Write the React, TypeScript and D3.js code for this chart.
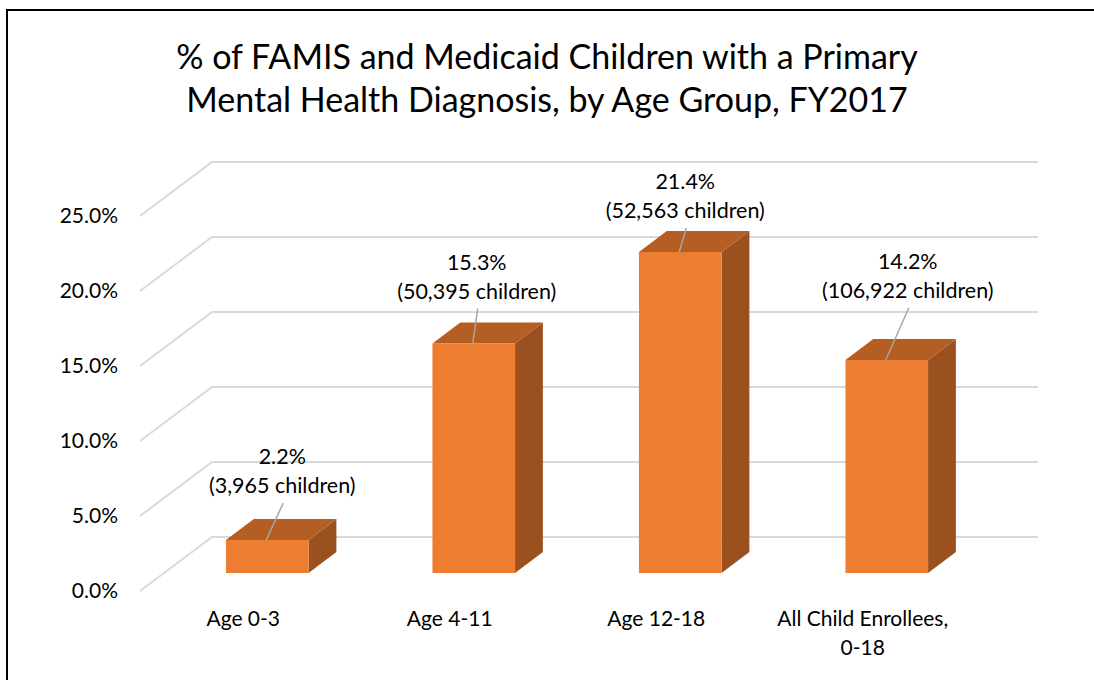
import React from "react";
import * as d3 from "d3";

const categories = ["Age 0-3", "Age 4-11", "Age 12-18", "All Child Enrollees,\n0-18"];
const percentValues = [2.2, 15.3, 21.4, 14.2];
const childCounts = ["3,965", "50,395", "52,563", "106,922"];
const yTicks = [0, 5, 10, 15, 20, 25];
const titleLines = [
  "% of FAMIS and Medicaid Children with a Primary",
  "Mental Health Diagnosis, by Age Group, FY2017",
];
// manual label placement nudges (layout, relative to bar top-center)
const labelNudge = [
  { dx: 15, dy: -47 },
  { dx: 3, dy: -45 },
  { dx: 5, dy: -34 },
  { dx: 21, dy: -62 },
];

const FONT = "Lato, 'Open Sans', sans-serif";

export default function App() {
  const W = 1094;
  const H = 680;
  const x0 = 140; // front-left floor x
  const y0 = 591; // front floor y for value 0
  const depthDX = 72;
  const depthDY = -54;
  const wallWidth = 826;

  const x = d3
    .scaleBand<string>()
    .domain(categories)
    .range([0, wallWidth])
    .paddingInner(0.6)
    .paddingOuter(0.3);
  const y = d3.scaleLinear().domain([0, 25]).range([0, 375]);
  const depth = d3.scaleLinear().domain([0, 1]).range([0, 1]);
  const dFront = depth(1 / 3);
  const dBack = depth(0.72);

  const P = (px: number, v: number, d: number): [number, number] => [
    x0 + depthDX * d + px,
    y0 + depthDY * d - y(v),
  ];
  const pts = (arr: [number, number][]) => arr.map((p) => p.join(",")).join(" ");

  const bw = x.bandwidth();

  return (
    <svg
      width={W}
      height={H}
      style={{ position: "absolute", left: 0, top: 0, background: "#fff" }}
      fontFamily={FONT}
    >
      <rect x={0} y={0} width={W} height={H} fill="#fff" />
      {/* frame */}
      <path d={`M7,${H} L7,10 L${W},10`} fill="none" stroke="#000" strokeWidth={2} />

      {/* title */}
      {titleLines.map((t, i) => (
        <text
          key={i}
          x={547}
          y={69 + i * 43}
          textAnchor="middle"
          fontSize={34}
          fill="#000"
        >
          {t}
        </text>
      ))}

      {/* gridlines: side wall + back wall */}
      {yTicks.map((v) => {
        const a = P(0, v, 0);
        const b = P(0, v, 1);
        const c = P(wallWidth, v, 1);
        return (
          <polyline
            key={v}
            points={pts([a, b, c])}
            fill="none"
            stroke="#D9D9D9"
            strokeWidth={2}
          />
        );
      })}

      {/* y tick labels */}
      {yTicks.map((v) => {
        const [, py] = P(0, v, 0);
        return (
          <text
            key={v}
            x={118}
            y={py}
            dy="0.35em"
            textAnchor="end"
            fontSize={21}
            fill="#000"
          >
            {v.toFixed(1) + "%"}
          </text>
        );
      })}

      {/* bars */}
      {categories.map((c, i) => {
        const v = percentValues[i];
        const l = x(c)!;
        const r = l + bw;
        const ftl = P(l, v, dFront);
        const ftr = P(r, v, dFront);
        const fbl = P(l, 0, dFront);
        const fbr = P(r, 0, dFront);
        const btl = P(l, v, dBack);
        const btr = P(r, v, dBack);
        const bbr = P(r, 0, dBack);
        return (
          <g key={c}>
            <polygon points={pts([ftr, btr, bbr, fbr])} fill="#9A511F" />
            <polygon points={pts([ftl, btl, btr, ftr])} fill="#B45E23" />
            <polygon points={pts([ftl, ftr, fbr, fbl])} fill="#ED7D31" />
          </g>
        );
      })}

      {/* data labels with leader lines */}
      {categories.map((c, i) => {
        const v = percentValues[i];
        const l = x(c)!;
        const [cx, topY] = P(l + bw / 2, v, dFront);
        const lx = cx + labelNudge[i].dx;
        const base2 = topY + labelNudge[i].dy;
        return (
          <g key={c}>
            <line
              x1={lx + 1}
              y1={base2 + 10}
              x2={cx - 1}
              y2={topY}
              stroke="#A6A6A6"
              strokeWidth={1.5}
            />
            <text x={lx} y={base2 - 29} textAnchor="middle" fontSize={21.5} fill="#000">
              {v.toFixed(1) + "%"}
            </text>
            <text x={lx} y={base2} textAnchor="middle" fontSize={21.5} fill="#000">
              {`(${childCounts[i]} children)`}
            </text>
          </g>
        );
      })}

      {/* category labels */}
      {categories.map((c) => {
        const [cx] = P(x(c)! + bw / 2, 0, 0);
        return c.split("\n").map((line, j) => (
          <text
            key={c + j}
            x={cx}
            y={626 + j * 29}
            textAnchor="middle"
            fontSize={21}
            fill="#000"
          >
            {line}
          </text>
        ));
      })}
    </svg>
  );
}
